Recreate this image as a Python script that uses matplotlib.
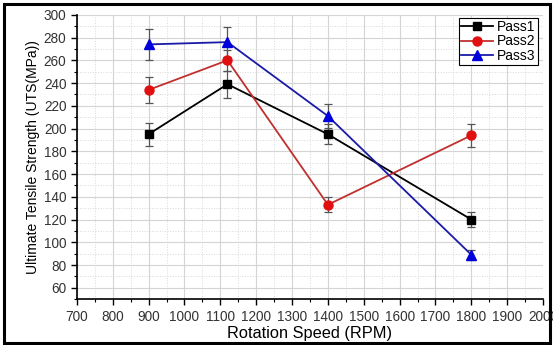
import matplotlib
matplotlib.use("Agg")
import matplotlib.pyplot as plt
from matplotlib.ticker import MultipleLocator
from matplotlib.patches import Rectangle

plt.rcParams['font.family'] = ['Liberation Sans', 'DejaVu Sans']

# Data
speed = [900, 1120, 1400, 1800]
pass1 = [195, 239, 195, 120]
pass1_err = [10, 12, 9, 6.5]
pass2 = [234, 260, 133, 194]
pass2_err = [11.5, 9, 6.7, 10]
pass3 = [274, 276, 211, 89]
pass3_err = [13.5, 13, 10.5, 4.5]
labels = ["Pass1", "Pass2", "Pass3"]

fig = plt.figure(figsize=(5.53, 3.45), dpi=100)
ax = fig.add_axes([0.139, 0.133, 0.843, 0.824])

# outer frame around the whole picture
fig.patches.append(Rectangle((0.007, 0.006), 0.988, 0.983, transform=fig.transFigure,
                             fill=False, edgecolor='black', linewidth=2.2))

series = [
    (pass1, pass1_err, 's', 'black', 'black', 5.5),
    (pass2, pass2_err, 'o', '#c0302e', '#e01010', 6.5),
    (pass3, pass3_err, '^', '#1a1aa8', '#0000dd', 7),
]
for (vals, err, mk, lc, mc, ms), lab in zip(series, labels):
    ax.errorbar(speed, vals, yerr=err, fmt='none', ecolor='#555555',
                elinewidth=0.9, capsize=3, capthick=0.9, zorder=2)
    ax.plot(speed, vals, color=lc, marker=mk, markersize=ms, markerfacecolor=mc,
            markeredgecolor=mc, linewidth=1.3, label=lab, zorder=3)

ax.set_xlim(700, 2000)
ax.set_ylim(50, 300)
ax.xaxis.set_major_locator(MultipleLocator(100))
ax.xaxis.set_minor_locator(MultipleLocator(50))
ax.yaxis.set_major_locator(MultipleLocator(20))
ax.yaxis.set_minor_locator(MultipleLocator(10))
ax.set_yticks(range(60, 301, 20))

ax.grid(which='major', color='#d4d4d4', linewidth=0.8, linestyle='-')
ax.grid(which='minor', color='#d8d8d8', linewidth=0.7, linestyle=':')
ax.set_axisbelow(True)

for s in ['top', 'right']:
    ax.spines[s].set_visible(False)
for s in ['left', 'bottom']:
    ax.spines[s].set_linewidth(1.2)

ax.tick_params(which='major', direction='out', length=4, width=1, labelsize=9.8, colors='black')
ax.tick_params(which='minor', direction='out', length=2.5, width=0.8)
for t in ax.get_xticklabels() + ax.get_yticklabels():
    t.set_color('#333333')

ax.set_xlabel("Rotation Speed (RPM)", fontsize=11.8, labelpad=2)
ax.set_ylabel("Ultimate Tensile Strength (UTS(MPa))", fontsize=10, labelpad=3)

leg = ax.legend(loc='upper right', bbox_to_anchor=(0.995, 1.0), fontsize=10,
                frameon=True, fancybox=False, edgecolor='black', framealpha=1,
                borderpad=0.15, labelspacing=0.05, handlelength=2.3, handletextpad=0.3,
                borderaxespad=0.2)
leg.get_frame().set_linewidth(0.8)

fig.savefig("out.png", dpi=100)
